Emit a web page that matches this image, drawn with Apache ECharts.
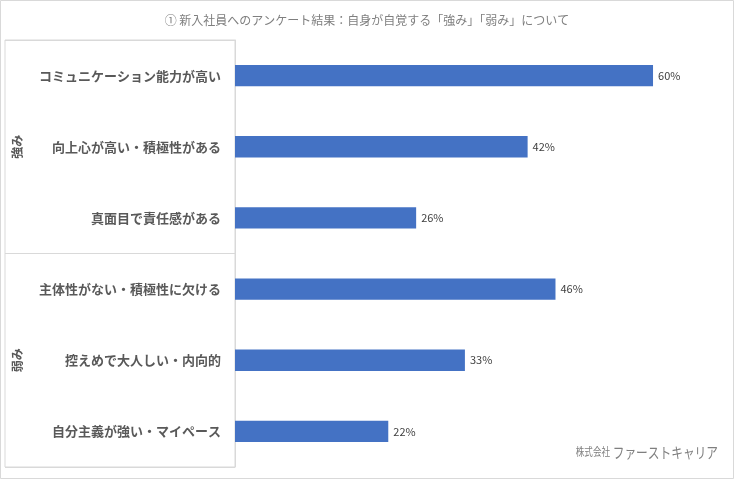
<!DOCTYPE html>
<html>
<head>
<meta charset="utf-8">
<script src="https://cdn.jsdelivr.net/npm/echarts@6/dist/echarts.min.js"></script>
<style>
html,body{margin:0;padding:0;background:#fff;}
#chart{width:734px;height:479px;}
</style>
</head>
<body>
<div id="chart"></div>
<script>
const titleText = '① 新入社員へのアンケート結果：自身が自覚する「強み」「弱み」について';
const categories = [
  'コミュニケーション能力が高い',
  '向上心が高い・積極性がある',
  '真面目で責任感がある',
  '主体性がない・積極性に欠ける',
  '控えめで大人しい・内向的',
  '自分主義が強い・マイペース'
];
const values = [60, 42, 26, 46, 33, 22];
const groups = ['強み', '弱み'];
const FONT = '"Noto Sans CJK JP", "Noto Sans", sans-serif';

const chart = echarts.init(document.getElementById('chart'), null, {renderer: 'canvas'});
chart.setOption({
  backgroundColor: '#ffffff',
  animation: false,
  textStyle: {fontFamily: FONT},
  title: {
    text: titleText,
    left: 'center',
    top: 9,
    textStyle: {fontSize: 12, fontWeight: 'normal', color: '#7f7f7f', fontFamily: FONT}
  },
  grid: [
    {left: 235, top: 40, height: 427, right: 11.3, containLabel: false},
    {left: 5, top: 40, height: 427, width: 230, show: true, borderColor: '#d9d9d9', borderWidth: 1, backgroundColor: 'transparent'}
  ],
  xAxis: [
    {gridIndex: 0, type: 'value', min: 0, max: 70, show: false},
    {gridIndex: 1, type: 'value', min: 0, max: 1, show: false}
  ],
  yAxis: [
    {
      gridIndex: 0, type: 'category', data: categories, inverse: true,
      axisLine: {show: true, lineStyle: {color: '#d9d9d9'}},
      axisTick: {show: false},
      axisLabel: {margin: 14, fontSize: 13, fontWeight: 'bold', color: '#595959', fontFamily: FONT}
    },
    {
      gridIndex: 1, type: 'category', data: groups, inverse: true,
      axisLine: {show: false}, axisTick: {show: false},
      splitLine: {show: true, lineStyle: {color: '#d9d9d9'}},
      axisLabel: {rotate: 90, margin: -18, fontSize: 12, fontWeight: 'bold', color: '#595959', fontFamily: FONT}
    }
  ],
  series: [{
    type: 'bar',
    xAxisIndex: 0, yAxisIndex: 0,
    data: values,
    barCategoryGap: '70%',
    itemStyle: {color: '#4472C4'},
    label: {show: true, position: 'right', distance: 5, formatter: '{c}%', fontSize: 11, color: '#404040', fontFamily: FONT}
  }],
  graphic: [
    {type: 'rect', shape: {x: 0.5, y: 0.5, width: 733, height: 478}, style: {fill: 'none', stroke: '#d9d9d9', lineWidth: 1}, silent: true},
    {type: 'text', x: 718, y: 452, scaleX: 0.78, silent: true, style: {
      text: '{s|株式会社} {l|ファーストキャリア}',
      textAlign: 'right', textVerticalAlign: 'middle',
      rich: {
        s: {fontSize: 11, fill: '#7f7f7f', fontFamily: FONT},
        l: {fontSize: 15, fill: '#7f7f7f', fontFamily: FONT}
      }
    }}
  ]
});
</script>
</body>
</html>
